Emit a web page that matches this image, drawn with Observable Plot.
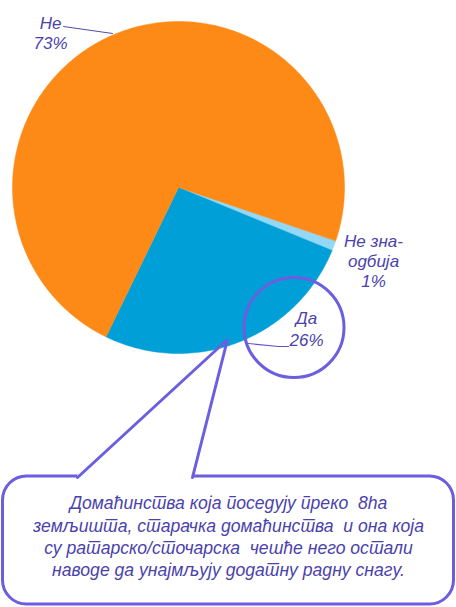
<!DOCTYPE html>
<html lang="sr">
<head>
<meta charset="utf-8">
<script src="https://cdn.jsdelivr.net/npm/d3@7"></script>
<script src="https://cdn.jsdelivr.net/npm/@observablehq/plot@0.6"></script>
<style>
  html, body { margin: 0; padding: 0; background: #fff; }
  #chart svg { display: block; }
</style>
</head>
<body>
<div id="chart"></div>
<script>
// ---- data ----
const categories = ["Не зна-одбија", "Да", "Не"];
const values = [1, 26, 73];
const sliceLabels = ["Не зна-\nодбија\n1%", "Да\n26%", "Не\n73%"];
const colors = ["#93d8f4", "#009fd8", "#fd8a17"];
const noteLines = [
  "Домаћинства која поседују преко  8ha",
  "земљишта, старачка домаћинства  и она која",
  "су ратарско/сточарска  чешће него остали",
  "наводе да унајмљују додатну радну снагу."
];

// ---- layout ----
const W = 456, H = 607;
const cx = 178, cy = 187, R = 166;
const startAngle = 1.897;
const textColor = "#4a42ac";
const accent = "#6b5fe0";
const font = "'Liberation Sans', Arial, sans-serif";

const arcs = d3.pie().sort(null).value(d => d)
  .startAngle(startAngle).endAngle(startAngle + 2 * Math.PI)(values);

const slicePts = [];
arcs.forEach((a, i) => {
  slicePts.push({cat: categories[i], x: cx, y: cy});
  const n = Math.max(4, Math.ceil((a.endAngle - a.startAngle) / (Math.PI / 180)));
  for (let k = 0; k <= n; k++) {
    const t = a.startAngle + (a.endAngle - a.startAngle) * k / n;
    slicePts.push({cat: categories[i], x: cx + R * Math.sin(t), y: cy - R * Math.cos(t)});
  }
});

const labelPos = [
  {text: sliceLabels[0], x: 373, y: 260},
  {text: sliceLabels[1], x: 306, y: 327},
  {text: sliceLabels[2], x: 50, y: 32}
];

const chart = Plot.plot({
  width: W, height: H,
  margin: 0,
  x: {domain: [0, W], range: [0, W], axis: null},
  y: {domain: [0, H], range: [0, H], axis: null},
  color: {domain: categories, range: colors},
  marks: [
    Plot.line(slicePts, {x: "x", y: "y", z: "cat", fill: "cat", stroke: "cat", strokeWidth: 0.5, curve: "linear-closed"}),
    // leader for Не
    Plot.line([{x: 63, y: 26}, {x: 112, y: 33}], {x: "x", y: "y", stroke: "#4d4d9f", strokeWidth: 1}),
    // leader for Да
    Plot.line([{x: 248, y: 343}, {x: 278, y: 346}, {x: 288, y: 346}], {x: "x", y: "y", stroke: "#5a52d5", strokeWidth: 1.2}),
    // slice labels
    Plot.text(labelPos.slice(0,1), {x: "x", y: "y", text: "text", fill: textColor, fontSize: 17, fontStyle: "italic", fontFamily: font, lineHeight: 1.2}),
    Plot.text(labelPos.slice(1,2), {x: "x", y: "y", text: "text", fill: textColor, fontSize: 17, fontStyle: "italic", fontFamily: font, lineHeight: 1.3}),
    Plot.text(labelPos.slice(2,3), {x: "x", y: "y", text: "text", fill: textColor, fontSize: 17, fontStyle: "italic", fontFamily: font, lineHeight: 1.2}),
    // circle around Да
    Plot.dot([{x: 293.5, y: 327}], {x: "x", y: "y", r: 50, stroke: accent, strokeWidth: 3, fill: "none"}),
    // callout box
    Plot.rect([{x1: 2.5, x2: 453.5, y1: 476, y2: 604}], {x1: "x1", x2: "x2", y1: "y1", y2: "y2", rx: 24, ry: 24, stroke: accent, strokeWidth: 3, fill: "white"}),
    Plot.line([{x: 79, y: 476}, {x: 190, y: 476}], {x: "x", y: "y", stroke: "white", strokeWidth: 5}),
    Plot.line([{x: 77, y: 477}, {x: 227, y: 339}, {x: 192, y: 477}], {x: "x", y: "y", stroke: accent, strokeWidth: 3, strokeLinejoin: "miter"}),
    // note text
    Plot.text([noteLines.join("\n")], {x: () => 228, y: () => 535, text: d => d, fill: textColor, fontSize: 17.6, fontStyle: "italic", fontFamily: font, lineHeight: 1.26})
  ]
});
document.getElementById("chart").append(chart);
</script>
</body>
</html>
